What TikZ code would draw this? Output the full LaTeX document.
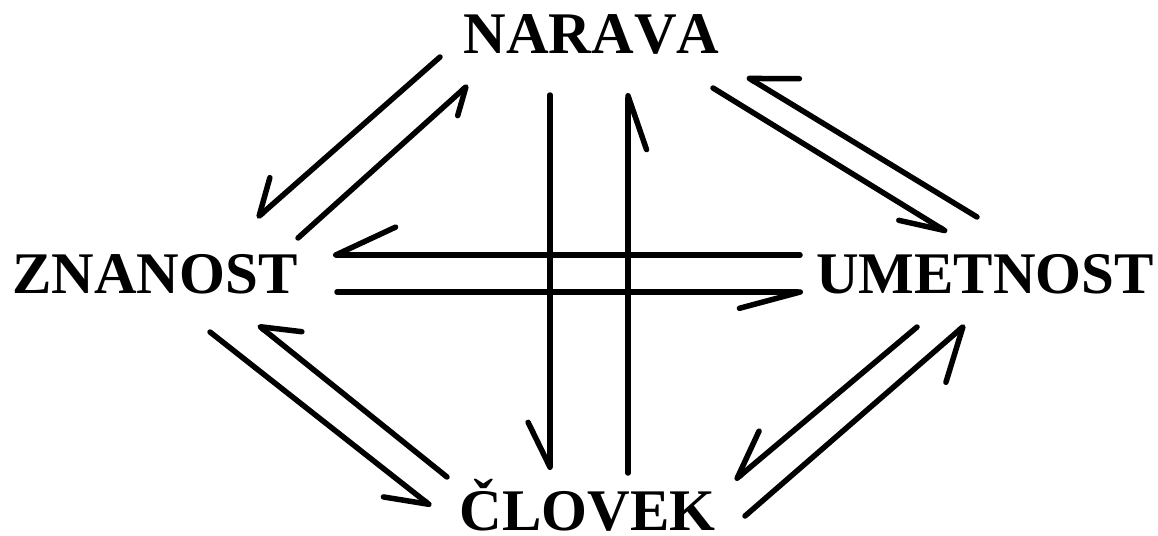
\documentclass[tikz,border=0pt]{standalone}
\usepackage{fontspec}
\setmainfont{Liberation Serif}[Kerning=Off]
\usetikzlibrary{arrows.meta}
\tikzset{
  label/.style={font=\fontsize{59}{60}\selectfont\bfseries, inner sep=0pt, anchor=base},
  conn/.style={line width=5.5pt, line cap=round, line join=round},
  harp/.style 2 args={conn, -{Straight Barb[right,round,angle=#1:#2]}}
}
\begin{document}
\begin{tikzpicture}[x=1pt,y=-1pt]
\useasboundingbox (0,0) rectangle (1158,535);
\node[label] (N) at (591.5,53) {NARAVA};
\node[label] (Z) at (155,293) {ZNANOST};
\node[label] (U) at (985,293) {UMETNOST};
\node[label] (C) at (587.5,530) {ČLOVEK};
% end points
\coordinate (a1s) at (440,57);  \coordinate (a1e) at (257,218);
\coordinate (a2s) at (298,238); \coordinate (a2e) at (468,85);
\coordinate (a3s) at (977,217); \coordinate (a3e) at (747,77);
\coordinate (a4s) at (713,88);  \coordinate (a4e) at (947,232);
\coordinate (a5s) at (800,255); \coordinate (a5e) at (333,255);
\coordinate (a6s) at (337,292); \coordinate (a6e) at (803,292);
\coordinate (a7s) at (550,95);  \coordinate (a7e) at (550,470);
\coordinate (a8s) at (628,473); \coordinate (a8e) at (628,93);
\coordinate (a9s) at (210,332); \coordinate (a9e) at (431,506);
\coordinate (a10s) at (447,477); \coordinate (a10e) at (258,325);
\coordinate (a11s) at (917,327); \coordinate (a11e) at (735,480);
\coordinate (a12s) at (745,516); \coordinate (a12e) at (965,325);
% N <-> Z
\draw[harp={66}{40pt}] (a1s) -- (a1e);
\draw[harp={64}{30pt}] (a2s) -- (a2e);
% U <-> N
\draw[harp={62}{50pt}] (a3s) -- (a3e);
\draw[harp={38}{47pt}] (a4s) -- (a4e);
% U <-> Z
\draw[harp={50}{66pt}] (a5s) -- (a5e);
\draw[harp={30}{63pt}] (a6s) -- (a6e);
% N <-> C
\draw[harp={52}{50pt}] (a7s) -- (a7e);
\draw[harp={38}{57pt}] (a8s) -- (a8e);
% Z <-> C
\draw[harp={58}{46pt}] (a9s) -- (a9e);
\draw[harp={64}{42pt}] (a10s) -- (a10e);
% U <-> C
\draw[harp={50}{52pt}] (a11s) -- (a11e);
\draw[harp={64}{58pt}] (a12s) -- (a12e);
\end{tikzpicture}
\end{document}
